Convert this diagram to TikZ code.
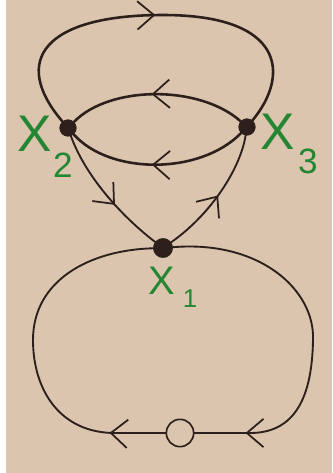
\documentclass[tikz,border=0pt]{standalone}
\usepackage{xcolor}
\usepackage{fontspec}
\setmainfont{Liberation Sans}
\usepackage{tikz}
\usetikzlibrary{arrows.meta}
\usetikzlibrary{decorations.markings}
\definecolor{paper}{RGB}{219,197,174}
\definecolor{ink}{RGB}{45,32,28}
\definecolor{marker}{RGB}{36,134,50}
\tikzset{
  vertex/.style={circle, fill=ink, draw=ink, inner sep=0pt, minimum size=0.5cm},
  hollow/.style={circle, draw=ink, line width=1.4pt, inner sep=0pt, minimum size=0.82cm},
  edge/.style={draw=ink, line width=2.2pt, line cap=round},
  thinedge/.style={draw=ink, line width=1.6pt, line cap=round},
  midarrow/.style={postaction={decorate}, decoration={markings,
    mark=at position #1 with {\arrow{Straight Barb[length=5mm, width=8.5mm, line width=1.5pt]}}}},
  bigx/.style={text=marker, inner sep=0pt, font=\fontsize{44}{44}\selectfont},
  subx/.style={text=marker, inner sep=0pt, font=\fontsize{30}{30}\selectfont}
}
\begin{document}
\begin{tikzpicture}[x=0.03cm, y=-0.03cm]
\useasboundingbox (0,0) rectangle (332,473);
\fill[white] (0,0) rectangle (332,473);
\fill[paper] (6,0) rectangle (332,473);
\node[vertex] (X2) at (68,128) {};
\node[vertex] (X3) at (247,127) {};
\node[vertex, minimum size=0.58cm] (X1) at (163,248) {};
\node[hollow] (O) at (180,433) {};
\coordinate (top) at (163,15);
\coordinate (right) at (313,340);
\coordinate (left) at (33,340);
\draw[edge, midarrow=0.5] (X2) .. controls (10,60) and (45,15) .. (top) .. controls (285,15) and (290,75) .. (X3);
\draw[edge, midarrow=0.53] (X3) .. controls (200,85) and (110,85) .. (X2);
\draw[edge, midarrow=0.53] (X3) .. controls (200,175) and (110,175) .. (X2);
\draw[thinedge, midarrow=0.6] (X2) .. controls (85,175) and (120,215) .. (X1);
\draw[thinedge, midarrow=0.5] (X1) .. controls (210,215) and (240,170) .. (X3);
\draw[thinedge, midarrow=-1.53cm] (X1) .. controls (260,240) and (315,290) .. (right) .. controls (312,405) and (290,433) .. (250,433) -- (O);
\draw[thinedge, midarrow=1.68cm] (O) -- (115,433) .. controls (60,433) and (33,390) .. (left) .. controls (33,280) and (90,250) .. (X1);
\node[bigx] (lX2) at (35,134) {X};
\node[subx] (lX2s) at (63,165) {2};
\node[bigx] (lX3) at (278,132) {X};
\node[subx] (lX3s) at (308,161) {3};
\node[bigx, font=\fontsize{34}{34}\selectfont] (lX1) at (162,281) {X};
\node[subx, font=\fontsize{22}{22}\selectfont] (lX1s) at (190,299) {1};
\end{tikzpicture}
\end{document}
